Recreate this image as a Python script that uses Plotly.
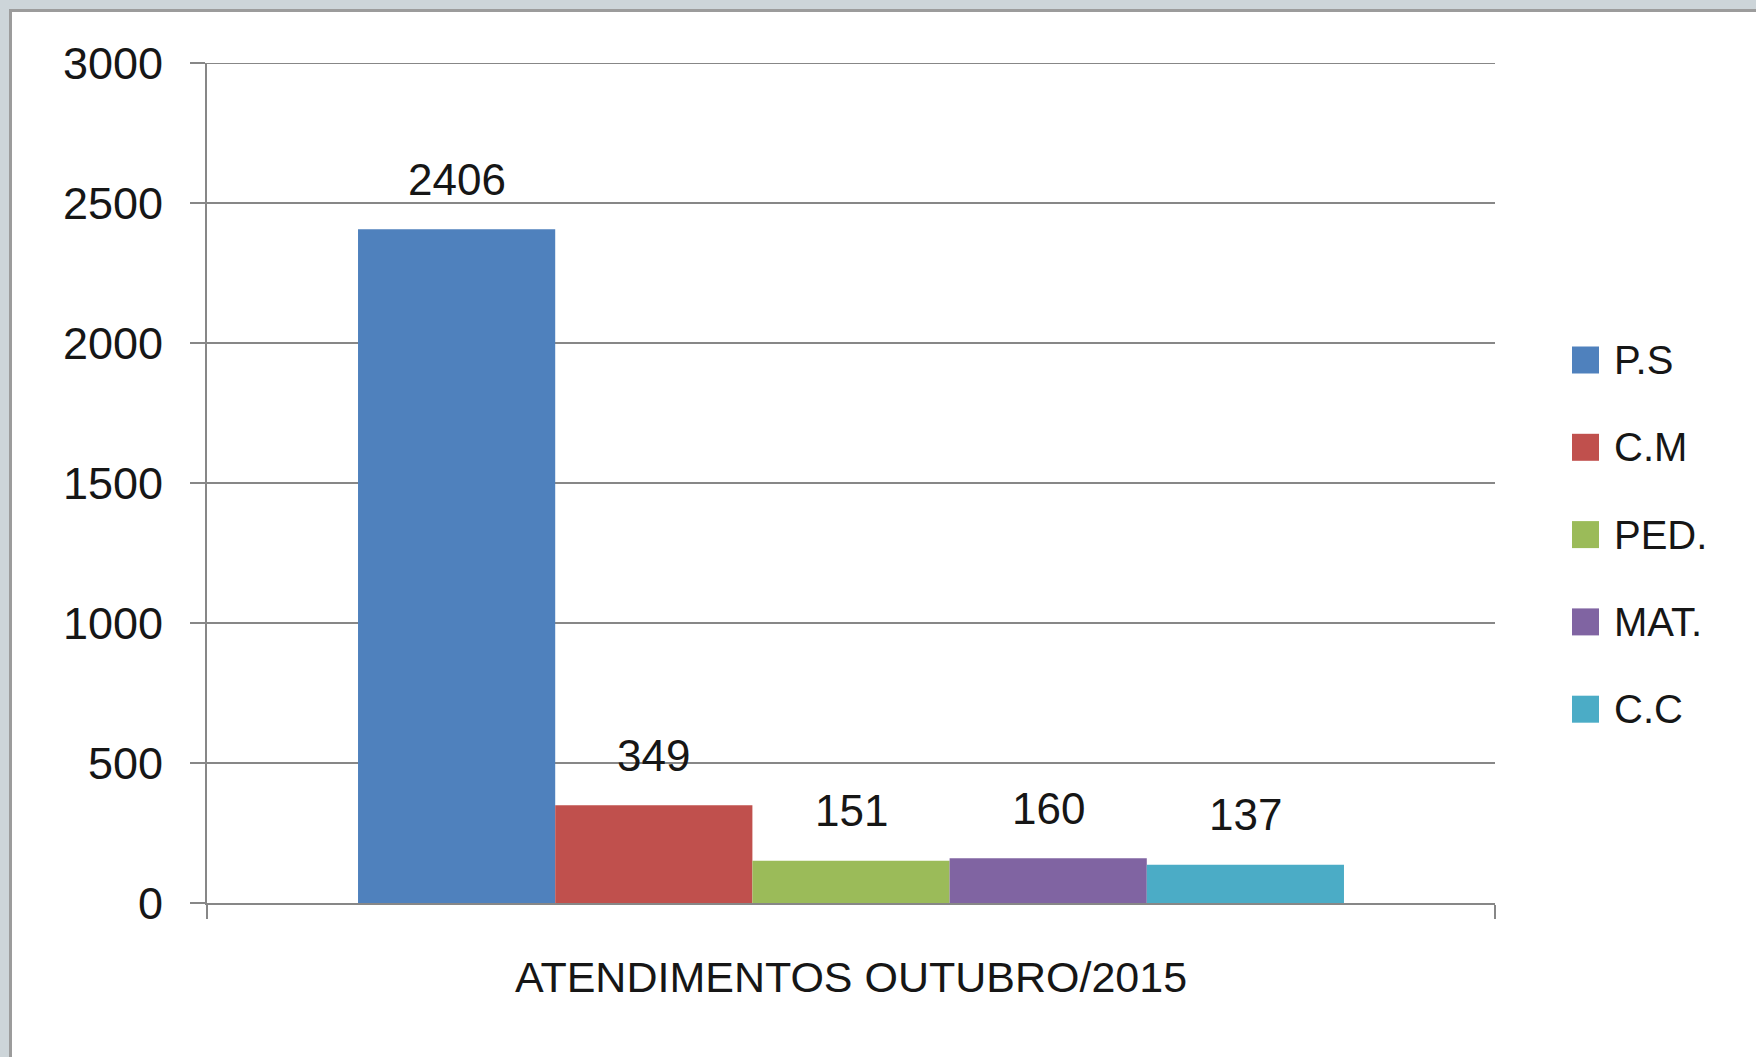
import plotly.graph_objects as go

# ---- data ----
categories = ["ATENDIMENTOS OUTUBRO/2015"]
series_names = ["P.S", "C.M", "PED.", "MAT.", "C.C"]
series_values = [2406, 349, 151, 160, 137]
series_colors = ["#4F81BD", "#C0504D", "#9BBB59", "#8064A2", "#4BACC6"]
y_tickvals = [0, 500, 1000, 1500, 2000, 2500, 3000]
y_ticktext = ["0", "500", "1000", "1500", "2000", "2500", "3000"]
y_max = 3000

# ---- layout constants ----
W, H = 1756, 1057
L, R, T, B = 207, 261, 63, 154
PW = W - L - R
PH = H - T - B
BARGAP = 0.2345
FONT = "Liberation Sans, Arial, sans-serif"
TXT = "#161616"
AXC = "#878787"


def px2x(px):
    return (px - L) / PW


def py2y(py):
    return (H - B - py) / PH


fig = go.Figure()
for name, val, col in zip(series_names, series_values, series_colors):
    fig.add_trace(go.Bar(
        x=categories, y=[val], name=name,
        marker=dict(color=col, line=dict(width=0)),
        showlegend=False, hoverinfo="name+y",
    ))

# data labels above each bar (bar centres from the same grouping fraction)
n = len(series_values)
group = 1 - BARGAP
for i, val in enumerate(series_values):
    xc = -group / 2 + (i + 0.5) * group / n
    fig.add_annotation(
        x=xc, y=val, xref="x", yref="y", text=str(val), showarrow=False,
        yanchor="middle", xanchor="center", yshift=50,
        font=dict(family=FONT, size=44, color=TXT),
    )

shapes = []
# white chart frame on the grey slide background
shapes.append(dict(
    type="rect", xref="paper", yref="paper", layer="below",
    x0=px2x(10.5), x1=px2x(W + 50), y0=py2y(H + 50), y1=py2y(10.5),
    fillcolor="white", line=dict(color="#9C9C9C", width=3),
))
# top gridline (plotly omits the gridline on the range edge)
shapes.append(dict(
    type="line", xref="paper", yref="y", layer="below",
    x0=0, x1=1, y0=y_max, y1=y_max,
    line=dict(color=AXC, width=2),
))

# manual legend with large square keys
LEG_Y0, LEG_STEP, SQ = 360, 87.3, 27
for i, (name, col) in enumerate(zip(series_names, series_colors)):
    cy = LEG_Y0 + i * LEG_STEP
    shapes.append(dict(
        type="rect", xref="paper", yref="paper",
        x0=px2x(1572), x1=px2x(1572 + SQ),
        y0=py2y(cy + SQ / 2), y1=py2y(cy - SQ / 2),
        fillcolor=col, line=dict(width=0),
    ))
    fig.add_annotation(
        x=px2x(1612), y=py2y(cy), xref="paper", yref="paper", text=name,
        showarrow=False, xanchor="left", yanchor="middle",
        font=dict(family=FONT, size=40, color=TXT),
    )

fig.update_layout(
    width=W, height=H,
    margin=dict(l=L, r=R, t=T, b=B, autoexpand=False),
    paper_bgcolor="#CDD5D9",
    plot_bgcolor="rgba(0,0,0,0)",
    barmode="group", bargap=BARGAP, bargroupgap=0,
    shapes=shapes,
    font=dict(family=FONT, color=TXT),
    xaxis=dict(
        type="category",
        showline=True, linecolor=AXC, linewidth=2,
        ticks="outside", tickson="boundaries", ticklen=14,
        tickcolor=AXC, tickwidth=2,
        showgrid=False, zeroline=False,
        tickfont=dict(family=FONT, size=43, color=TXT),
        ticklabelstandoff=35,
    ),
    yaxis=dict(
        range=[0, y_max], tickmode="array",
        tickvals=y_tickvals, ticktext=y_ticktext,
        showline=True, linecolor=AXC, linewidth=2,
        ticks="outside", ticklen=15, tickcolor=AXC, tickwidth=2,
        showgrid=True, gridcolor=AXC, gridwidth=2,
        zeroline=False,
        tickfont=dict(family=FONT, size=45, color=TXT),
        ticklabelstandoff=18,
    ),
)

fig.write_html(
    "out.html",
    config={"displayModeBar": False},
    post_script="document.body.style.margin='0';document.body.style.overflow='hidden';",
)
